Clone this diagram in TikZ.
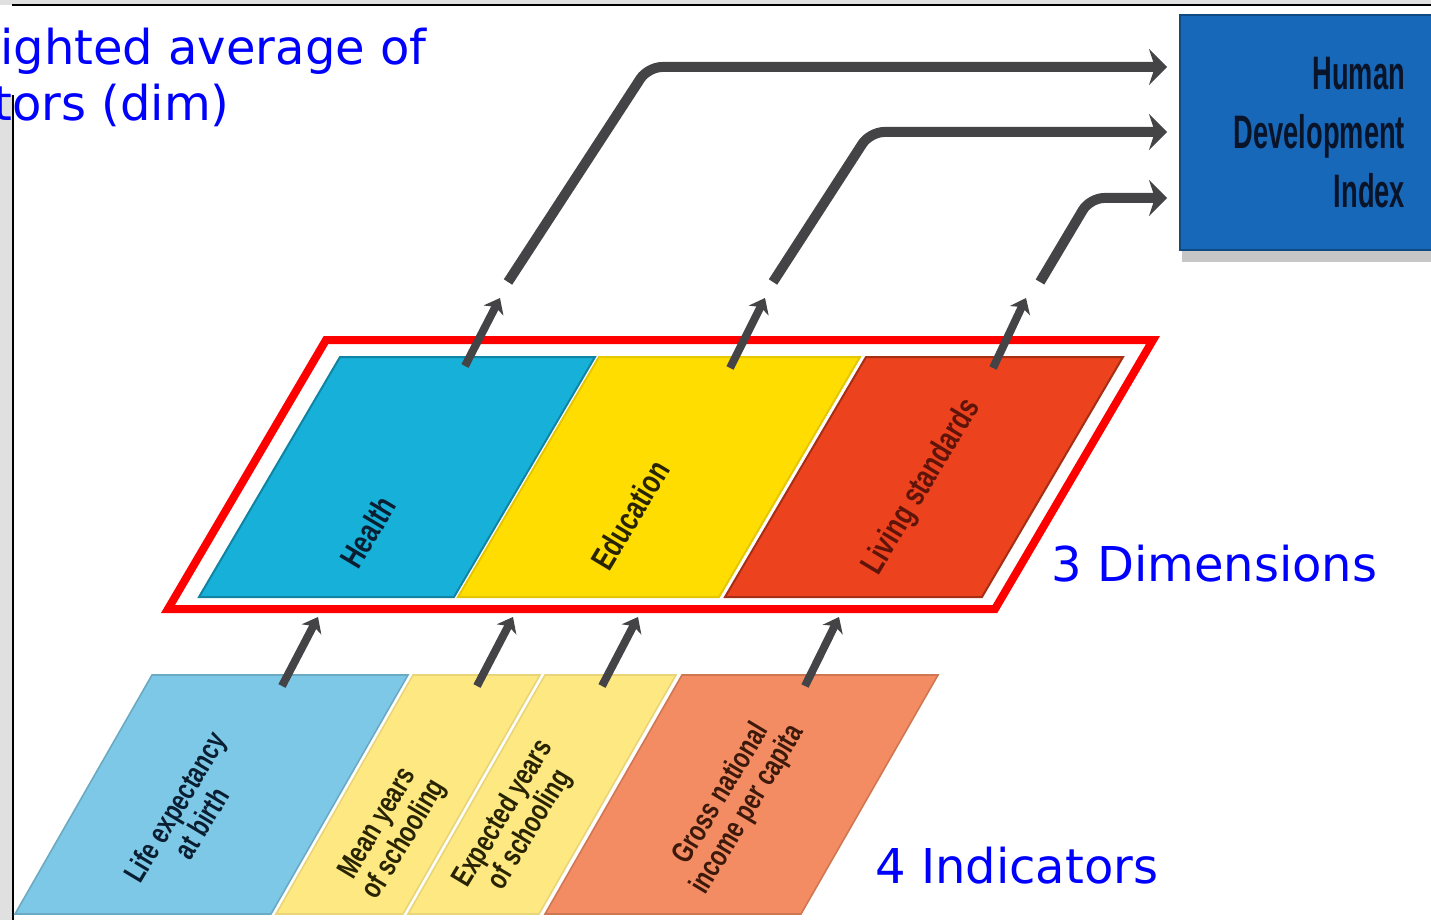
\documentclass[tikz,border=0pt]{standalone}
\usepackage{fontspec}
\setmainfont{DejaVu Sans}
\newfontfamily\hdifont[FakeStretch=0.58]{Liberation Sans}
\newfontfamily\tagfont[FakeStretch=0.75]{Liberation Sans}
\usetikzlibrary{arrows.meta,shadows}
\definecolor{hdiblue}{RGB}{24,104,186}
\definecolor{arrowgray}{RGB}{68,68,70}
\definecolor{healthc}{RGB}{22,176,216}
\definecolor{educc}{RGB}{255,221,0}
\definecolor{livingc}{RGB}{236,66,30}
\definecolor{lifec}{RGB}{125,200,230}
\definecolor{schoolc}{RGB}{253,232,130}
\definecolor{incomec}{RGB}{243,140,98}
\tikzset{
  bigarrow/.style={draw=arrowgray, line width=5pt, rounded corners=7pt, shorten >=6pt,
    -{Stealth[length=9pt,width=18pt,inset=3pt]}},
  uparrow/.style={draw=arrowgray, line width=4pt, -{Stealth[length=7pt,width=11pt,inset=2pt]}},
  tag/.style={font=\tagfont\bfseries\fontsize{15}{15.5}\selectfont, align=center, rotate=59, inner sep=0pt},
  bigtag/.style={tag, font=\tagfont\bfseries\fontsize{16.5}{17}\selectfont},
  blurb/.style={font=\fontsize{24}{28}\selectfont, text=blue, inner sep=0pt},
  hdibox/.style={fill=hdiblue, draw=hdiblue!70!black, line width=1pt,
    minimum width=130pt, minimum height=117.5pt, text width=95pt, inner xsep=17.5pt,
    align=right, text={rgb,255:red,10;green,20;blue,40},
    font=\hdifont\bfseries\fontsize{23.5}{29.5}\selectfont,
    drop shadow={shadow xshift=1pt, shadow yshift=-6pt, opacity=0.45}},
}

\begin{document}
\begin{tikzpicture}[x=0.5pt,y=-0.5pt]
		%%%%% START %%%%%
		\useasboundingbox (0,0) rectangle (1431,920);
		\clip (0,0) rectangle (1431,920);
		
		% slide frame
		\fill[black!12] (0,0) rectangle (1431,5);
		\draw[line width=1pt] (12,5.5) -- (1431,5.5);
		\fill[black!12] (0,95) rectangle (12,920);
		\draw[line width=1pt] (12.5,95) -- (12.5,920);
		
		\node[blurb, anchor=base east] (weight1) at (427,65) {ighted average of};
		\node[blurb, anchor=base east] (weight2) at (230,121) {tors (dim)};
		
		% index
		\node[hdibox] (hdi) at (1310,132.5) {Human\\Development\\Index};
		
		% dimensions
		\filldraw[fill=healthc, draw=healthc!75!black, line width=1pt] (340,357) -- (595,357) -- (454,597) -- (199,597) -- cycle;
		\filldraw[fill=educc, draw=educc!90!black, line width=1pt] (599,357) -- (860,357) -- (719,597) -- (458,597) -- cycle;
		\filldraw[fill=livingc, draw=livingc!70!black, line width=1pt] (866,357) -- (1123,357) -- (982,597) -- (725,597) -- cycle;
		
		\node[bigtag, text={rgb,255:red,10;green,30;blue,50}] (health) at (368,532) {Health};
		\node[bigtag, text={rgb,255:red,40;green,35;blue,0}] (educ) at (630,515) {Education};
		\node[bigtag, text={rgb,255:red,95;green,20;blue,10}] (living) at (922,487) {Living standards};
		
		\draw[red, line width=4pt] (326,340) -- (1153,340) -- (995,609) -- (168,609) -- cycle;
		\node[blurb, anchor=base west] (dims) at (1051,581) {3 Dimensions};
		
		% indicators
		\filldraw[fill=lifec, draw=lifec!85!black, line width=0.8pt] (152,675) -- (408,675) -- (271,914) -- (15,914) -- cycle;
		\filldraw[fill=schoolc, draw=schoolc!92!black, line width=0.8pt] (413,675) -- (540,675) -- (403,914) -- (276,914) -- cycle;
		\filldraw[fill=schoolc, draw=schoolc!92!black, line width=0.8pt] (545,675) -- (676,675) -- (539,914) -- (408,914) -- cycle;
		\filldraw[fill=incomec, draw=incomec!85!black, line width=0.8pt] (682,675) -- (938,675) -- (801,914) -- (545,914) -- cycle;
		
		\node[tag, text={rgb,255:red,10;green,30;blue,50}] (life) at (188,815) {Life expectancy\\at birth};
		\node[tag, text={rgb,255:red,40;green,35;blue,0}] (mean) at (392,832) {Mean years\\of schooling};
		\node[tag, text={rgb,255:red,40;green,35;blue,0}] (expect) at (517,822) {Expected years\\of schooling};
		\node[tag, text={rgb,255:red,60;green,25;blue,10}] (income) at (735,802) {Gross national\\income per capita};
		\node[blurb, anchor=base west] (inds) at (875,883) {4 Indicators};
		
		% indicator -> dimension
		\coordinate (life-out) at (282,686); \coordinate (life-in) at (318,617);
		\coordinate (mean-out) at (477,686); \coordinate (mean-in) at (513,617);
		\coordinate (expect-out) at (602,686); \coordinate (expect-in) at (638,617);
		\coordinate (income-out) at (805,686); \coordinate (income-in) at (839,617);
		\draw[uparrow] (life-out) -- (life-in);
		\draw[uparrow] (mean-out) -- (mean-in);
		\draw[uparrow] (expect-out) -- (expect-in);
		\draw[uparrow] (income-out) -- (income-in);
		
		% dimension -> index
		\coordinate (health-out) at (465,366); \coordinate (health-in) at (500,298);
		\coordinate (educ-out) at (730,368); \coordinate (educ-in) at (765,298);
		\coordinate (living-out) at (993,368); \coordinate (living-in) at (1026,298);
		\draw[uparrow] (health-out) -- (health-in);
		\draw[uparrow] (educ-out) -- (educ-in);
		\draw[uparrow] (living-out) -- (living-in);
		
		\coordinate (health-up) at (508,282); \coordinate (health-bend) at (648,67);
		\coordinate (educ-up) at (773,282); \coordinate (educ-bend) at (870,132);
		\coordinate (living-up) at (1040,282); \coordinate (living-bend) at (1090,198);
		\draw[bigarrow] (health-up) -- (health-bend) -- (health-bend -| hdi.west);
		\draw[bigarrow] (educ-up) -- (educ-bend) -- (educ-bend -| hdi.west);
		\draw[bigarrow] (living-up) -- (living-bend) -- (living-bend -| hdi.west);
		%%%%% END %%%%%
	\end{tikzpicture}
\end{document}
